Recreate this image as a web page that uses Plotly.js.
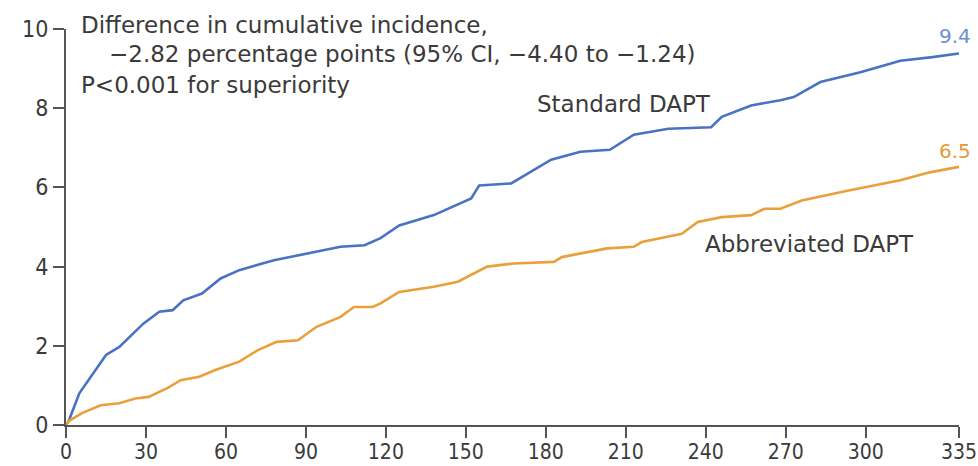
<!DOCTYPE html>
<html>
<head>
<meta charset="utf-8">
<script src="https://cdn.plot.ly/plotly-3.0.1.min.js"></script>
<style>html,body{margin:0;padding:0;background:#fff;}#chart{width:978px;height:466px;}</style>
</head>
<body>
<div id="chart"></div>
<script>
// Days since randomization
var standardDays = [0, 1, 5, 10, 15, 20, 25, 29, 35, 40, 44, 51, 58, 65, 78, 93, 103, 112, 118, 125, 138, 152, 155, 167, 182, 193, 204, 213, 226, 242, 246, 257, 268, 273, 283, 298, 313, 325, 335];
var standardPct = [0, 0.1, 0.8, 1.3, 1.77, 1.97, 2.3, 2.56, 2.86, 2.9, 3.15, 3.32, 3.7, 3.91, 4.16, 4.37, 4.5, 4.54, 4.72, 5.04, 5.3, 5.72, 6.05, 6.1, 6.7, 6.9, 6.95, 7.33, 7.48, 7.52, 7.78, 8.07, 8.2, 8.28, 8.66, 8.91, 9.2, 9.29, 9.38];

var abbrevDays = [0, 1, 6, 13, 20, 26, 31, 38, 43, 50, 56, 65, 72, 79, 87, 94, 103, 108, 115, 118, 125, 129, 138, 147, 158, 168, 183, 186, 203, 213, 216, 231, 237, 246, 257, 262, 268, 276, 294, 313, 324, 335];
var abbrevPct = [0, 0.1, 0.3, 0.5, 0.55, 0.67, 0.71, 0.93, 1.13, 1.22, 1.39, 1.6, 1.89, 2.1, 2.14, 2.48, 2.73, 2.98, 2.98, 3.07, 3.36, 3.4, 3.49, 3.62, 4.0, 4.08, 4.12, 4.24, 4.46, 4.5, 4.62, 4.83, 5.13, 5.25, 5.3, 5.46, 5.46, 5.67, 5.93, 6.18, 6.38, 6.52];

var xTicks = [0, 30, 60, 90, 120, 150, 180, 210, 240, 270, 300, 335];
var yTicks = [0, 2, 4, 6, 8, 10];

var blue = '#4a72c2';
var orange = '#e9a03a';
var textFont = '"DejaVu Sans", sans-serif';
var tickFont = '"DejaVu Sans Condensed", "DejaVu Sans", sans-serif';
var textColor = '#3a3a3a';
var axisColor = '#555555';

var traces = [
  {x: standardDays, y: standardPct, mode: 'lines', line: {color: blue, width: 2.6}, name: 'Standard DAPT', hoverinfo: 'skip'},
  {x: abbrevDays, y: abbrevPct, mode: 'lines', line: {color: orange, width: 2.6}, name: 'Abbreviated DAPT', hoverinfo: 'skip'}
];

var axisCommon = {
  showgrid: false, zeroline: false, showline: true, linecolor: axisColor, linewidth: 2,
  ticks: 'outside', ticklen: 11, tickwidth: 2, tickcolor: axisColor,
  ticklabeloverflow: 'allow', fixedrange: true
};

var layout = {
  width: 978, height: 466,
  margin: {l: 66, r: 19, t: 29, b: 41},
  paper_bgcolor: '#fff', plot_bgcolor: '#fff',
  showlegend: false,
  font: {family: textFont, size: 23, color: textColor},
  xaxis: Object.assign({range: [0, 335], tickvals: xTicks, ticktext: xTicks.map(String), ticklabelstandoff: -4,
    tickfont: {family: tickFont, size: 21, color: textColor}}, axisCommon),
  yaxis: Object.assign({range: [0, 10], tickvals: yTicks, ticktext: yTicks.map(String),
    tickfont: {family: tickFont, size: 23, color: textColor}}, axisCommon),
  annotations: [
    {xref: 'paper', yref: 'paper', x: 0.0151, y: 1.0101, xanchor: 'left', yanchor: 'middle', showarrow: false, align: 'left',
     text: 'Difference in cumulative incidence,', font: {family: textFont, size: 23, color: textColor}},
    {xref: 'paper', yref: 'paper', x: 0.0454, y: 0.9369, xanchor: 'left', yanchor: 'middle', showarrow: false, align: 'left',
     text: '\u22122.82 percentage points (95% CI, \u22124.40 to \u22121.24)', font: {family: textFont, size: 23, color: textColor}},
    {xref: 'paper', yref: 'paper', x: 0.0151, y: 0.8586, xanchor: 'left', yanchor: 'middle', showarrow: false, align: 'left',
     text: 'P<0.001 for superiority', font: {family: textFont, size: 23, color: textColor}},
    {xref: 'x', yref: 'y', x: 209.5, y: 8.11, xanchor: 'center', yanchor: 'middle', showarrow: false,
     text: 'Standard DAPT', font: {family: textFont, size: 23, color: textColor}},
    {xref: 'x', yref: 'y', x: 279, y: 4.57, xanchor: 'center', yanchor: 'middle', showarrow: false,
     text: 'Abbreviated DAPT', font: {family: textFont, size: 23, color: textColor}},
    {xref: 'paper', yref: 'paper', x: 1.016, y: 0.9823, xanchor: 'right', yanchor: 'middle', showarrow: false,
     text: '9.4', font: {family: textFont, size: 20, color: '#6d8fd2'}},
    {xref: 'paper', yref: 'paper', x: 1.016, y: 0.6919, xanchor: 'right', yanchor: 'middle', showarrow: false,
     text: '6.5', font: {family: textFont, size: 20, color: '#e49a3a'}}
  ]
};

Plotly.newPlot('chart', traces, layout, {staticPlot: true, displayModeBar: false});
</script>
</body>
</html>
